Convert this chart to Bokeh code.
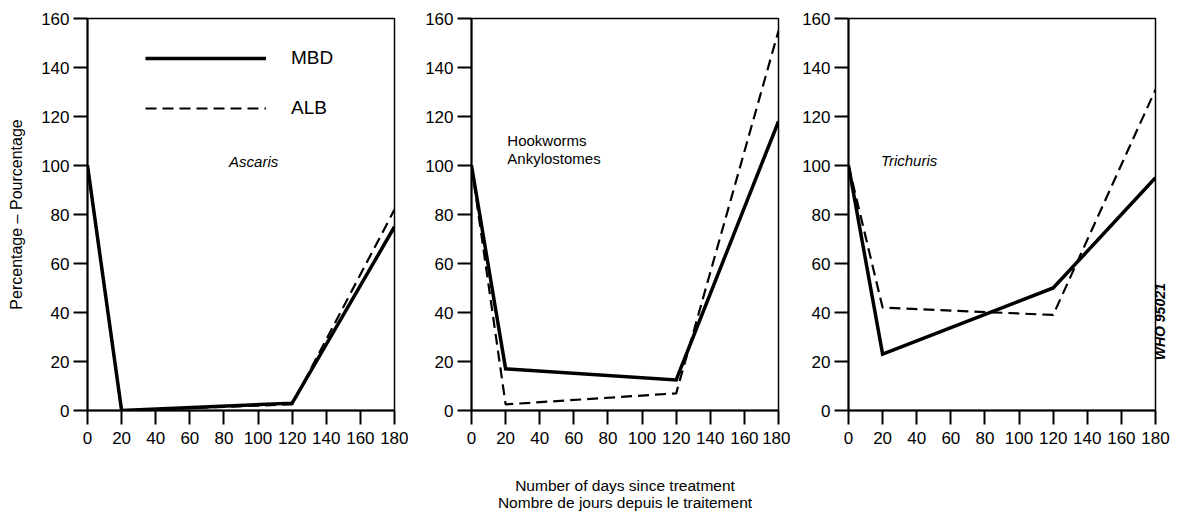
from math import pi
from bokeh.plotting import figure
from bokeh.layouts import row
from bokeh.models import Range1d, FixedTicker, Label, Legend, LegendItem, LinearAxis
from bokeh.embed import file_html
from bokeh.resources import INLINE

days = [0, 20, 120, 180]
ascaris_mbd = [100, 0, 3, 75]
ascaris_alb = [100, 0, 2.5, 82]
hook_mbd = [100, 17, 12.5, 118]
hook_alb = [100, 2.5, 7, 155]
trich_mbd = [100, 23, 50, 95]
trich_alb = [100, 42, 39, 131]
x_ticks = [0, 20, 40, 60, 80, 100, 120, 140, 160, 180]
y_ticks = [0, 20, 40, 60, 80, 100, 120, 140, 160]
species = ["Ascaris", "Hookworms\nAnkylostomes", "Trichuris"]

FONT = "Liberation Sans"


def make_panel(mbd, alb, left, right, ylabel=None, xlabel=None):
    p = figure(frame_width=307, frame_height=392, output_backend="svg",
               toolbar_location=None, x_range=Range1d(0, 180), y_range=Range1d(0, 160),
               min_border_left=left, min_border_right=right, min_border_top=18,
               min_border_bottom=40)
    p.grid.visible = False
    p.outline_line_color = "black"
    p.outline_line_width = 1.5
    p.outline_line_alpha = 1
    for ax in (p.xaxis, p.yaxis):
        ax.axis_line_width = 2
        ax.axis_line_color = "black"
        ax.major_tick_line_width = 2
        ax.major_tick_line_color = "black"
        ax.major_tick_in = 0
        ax.major_tick_out = 14
        ax.minor_tick_line_color = None
        ax.major_label_text_font = FONT
        ax.major_label_text_font_size = "17px"
        ax.major_label_text_color = "black"
        ax.axis_label_text_font = FONT
        ax.axis_label_text_font_style = "normal"
        ax.axis_label_text_color = "black"
    p.xaxis.ticker = FixedTicker(ticks=x_ticks)
    p.yaxis.ticker = FixedTicker(ticks=y_ticks)
    p.xaxis.major_label_standoff = 7
    p.yaxis.major_label_standoff = 4
    if ylabel:
        p.yaxis.axis_label = ylabel
        p.yaxis.axis_label_text_font_size = "16px"
        p.yaxis.axis_label_standoff = 13
    if xlabel:
        p.xaxis.axis_label = xlabel
        p.xaxis.axis_label_text_font_size = "15.5px"
        p.xaxis.axis_label_text_line_height = 1.05
        p.xaxis.axis_label_standoff = 30
    r1 = p.line(days, mbd, line_color="black", line_width=3.5, line_join="miter")
    r2 = p.line(days, alb, line_color="black", line_width=2.2, line_dash="11 6")
    return p, r1, r2


p1, a1, a2 = make_panel(ascaris_mbd, ascaris_alb, 87, 14,
                        ylabel="Percentage \u2013 Pourcentage")
p2, _, _ = make_panel(hook_mbd, hook_alb, 63, 12,
                      xlabel="Number of days since treatment\nNombre de jours depuis le traitement")
p3, _, _ = make_panel(trich_mbd, trich_alb, 58, 14)

legend = Legend(items=[LegendItem(label="MBD", renderers=[a1]),
                       LegendItem(label="ALB", renderers=[a2])],
                location=(58, 287), glyph_width=121, glyph_height=30, label_height=30,
                spacing=20, padding=0, margin=0, label_standoff=25,
                border_line_color=None, background_fill_alpha=0,
                label_text_font=FONT, label_text_font_size="19px",
                label_text_color="black")
p1.add_layout(legend)

p1.add_layout(Label(x=83, y=101.5, text=species[0], text_font=FONT, text_font_size="15px",
                    text_font_style="italic", text_baseline="middle", text_color="black"))
p2.add_layout(Label(x=21, y=106.5, text=species[1], text_font=FONT, text_font_size="15px",
                    text_baseline="middle", text_color="black", text_line_height=1.07))
p3.add_layout(Label(x=19, y=102, text=species[2], text_font=FONT, text_font_size="15px",
                    text_font_style="italic", text_baseline="middle", text_color="black"))

who_axis = LinearAxis(ticker=FixedTicker(ticks=[20.5]), major_label_overrides={20.5: "WHO 95021"},
                      axis_line_color=None, major_tick_line_color=None,
                      minor_tick_line_color=None, major_tick_in=0, major_tick_out=0,
                      major_label_standoff=5, major_label_orientation=pi / 2,
                      major_label_text_font=FONT, major_label_text_font_size="14px",
                      major_label_text_font_style="bold italic",
                      major_label_text_color="black")
p3.add_layout(who_axis, "right")

layout = row(p1, p2, p3, spacing=0)
open("out.html", "w").write(file_html(layout, INLINE))
